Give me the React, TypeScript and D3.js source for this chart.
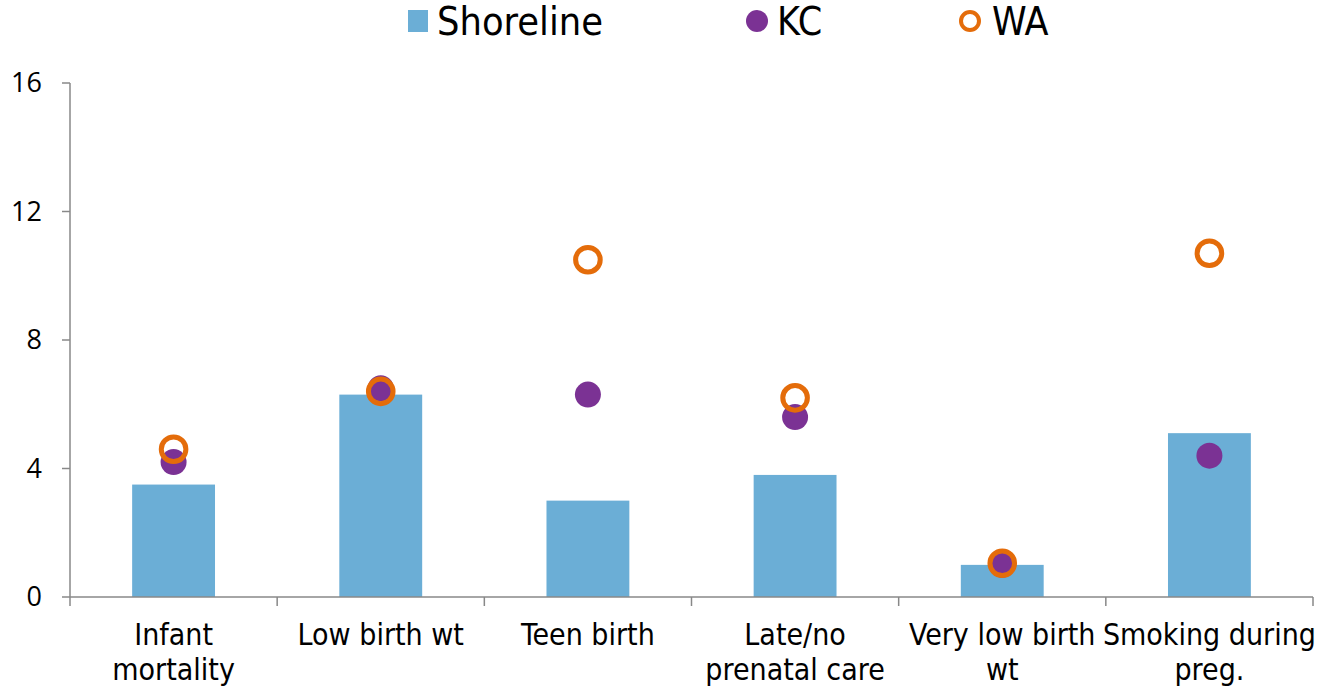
import React from "react";
import * as d3 from "d3";

const categories: string[][] = [
  ["Infant", "mortality"],
  ["Low birth wt"],
  ["Teen birth"],
  ["Late/no", "prenatal care"],
  ["Very low birth", "wt"],
  ["Smoking during", "preg."],
];
const shoreline = [3.5, 6.3, 3.0, 3.8, 1.0, 5.1];
const kc = [4.2, 6.5, 6.3, 5.6, 1.0, 4.4];
const wa = [4.6, 6.4, 10.5, 6.2, 1.05, 10.7];
const yTicks = [0, 4, 8, 12, 16];

const W = 1319;
const H = 690;
const left = 70;
const right = 1313;
const top = 83;
const bottom = 597;
const FONT = "'Liberation Sans Narrow', 'DejaVu Sans Condensed', 'Liberation Sans', sans-serif";
const BAR = "#6BAED6";
const PURPLE = "#7B3294";
const ORANGE = "#E46C0A";
const AXIS = "#888888";

export default function App() {
  const idx = categories.map((_, i) => String(i));
  const x = d3.scaleBand<string>().domain(idx).range([left, right]).paddingInner(0.6).paddingOuter(0.3);
  const xb = d3.scaleBand<string>().domain(idx).range([left, right]);
  const y = d3.scaleLinear().domain([0, 16]).range([bottom, top]);
  const cx = (i: number) => xb(String(i))! + xb.bandwidth() / 2;

  return (
    <svg width={W} height={H} style={{ position: "absolute", left: 0, top: 0 }}>
      <rect x={0} y={0} width={W} height={H} fill="#fff" />
      {/* legend */}
      <g fontFamily={FONT} fontSize={39} fill="#000">
        <rect x={408} y={10} width={20} height={22} fill={BAR} />
        <text x={437} y={35} textLength={166} lengthAdjust="spacingAndGlyphs">Shoreline</text>
        <circle cx={757} cy={21} r={11} fill={PURPLE} />
        <text x={777} y={35}>KC</text>
        <circle cx={970} cy={21} r={9} fill="none" stroke={ORANGE} strokeWidth={4} />
        <text x={992} y={35}>WA</text>
      </g>
      {/* bars */}
      {shoreline.map((v, i) => (
        <rect key={"b" + i} x={x(String(i))} y={y(v)} width={x.bandwidth()} height={y(0) - y(v)} fill={BAR} />
      ))}
      {/* axes */}
      <line x1={left} x2={left} y1={top} y2={bottom} stroke={AXIS} strokeWidth={1.5} />
      <line x1={left} x2={right} y1={bottom} y2={bottom} stroke={AXIS} strokeWidth={1.5} />
      {yTicks.map((t) => (
        <g key={"yt" + t}>
          <line x1={left - 8} x2={left} y1={y(t)} y2={y(t)} stroke={AXIS} strokeWidth={1.5} />
          <text x={42} y={y(t)} dy="0.35em" textAnchor="end" fontFamily="'Open Sans', sans-serif" fontSize={27} fill="#000">
            {t}
          </text>
        </g>
      ))}
      {d3.range(categories.length + 1).map((i) => {
        const xx = left + i * xb.step();
        return <line key={"xt" + i} x1={xx} x2={xx} y1={bottom} y2={bottom + 9} stroke={AXIS} strokeWidth={1.5} />;
      })}
      {categories.map((lines, i) => (
        <text key={"xl" + i} x={cx(i)} textAnchor="middle" fontFamily={FONT} fontSize={30} fill="#000">
          {lines.map((l, j) => (
            <tspan key={j} x={cx(i)} y={645 + j * 35}>
              {l}
            </tspan>
          ))}
        </text>
      ))}
      {/* KC dots */}
      {kc.map((v, i) => (
        <circle key={"k" + i} cx={cx(i)} cy={y(v)} r={13} fill={PURPLE} />
      ))}
      {/* WA rings */}
      {wa.map((v, i) => (
        <circle key={"w" + i} cx={cx(i)} cy={y(v)} r={12.3} fill="none" stroke={ORANGE} strokeWidth={5} />
      ))}
    </svg>
  );
}
